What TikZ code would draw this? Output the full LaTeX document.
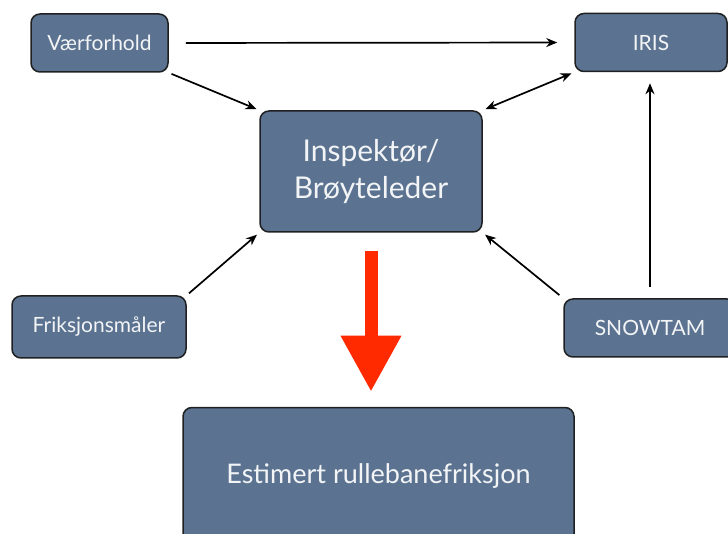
\documentclass[tikz,border=0pt]{standalone}
\usepackage{fontspec}
\setmainfont{Lato}
\usetikzlibrary{arrows.meta}
\definecolor{boxfill}{HTML}{5B7391}
\definecolor{boxline}{HTML}{1E2022}
\definecolor{boxtext}{HTML}{F2F4F6}
\definecolor{flowred}{HTML}{FF2A00}
\begin{document}
\begin{tikzpicture}[x=1pt,y=-1pt,
  box/.style={draw=boxline, line width=1.5pt, fill=boxfill, rounded corners=9pt,
    text=boxtext, inner sep=0pt, align=center, font=\fontsize{21}{24}\selectfont},
  link/.style={line width=1.7pt, -{Stealth[length=11pt,width=9pt]}}]
\useasboundingbox (0,0) rectangle (728,534);

\node[box, minimum width=137pt, minimum height=58pt] (vaer) at (99.5,43) {Værforhold};
\node[box, minimum width=152pt, minimum height=58pt] (iris) at (651,42.5) {IRIS};
\node[box, minimum width=222pt, minimum height=121pt,
      font=\fontsize{30}{37}\selectfont] (insp) at (371,171.5) {Inspektør/\\Brøyteleder};
\node[box, minimum width=174pt, minimum height=62pt] (fric) at (99,327) {Friksjonsmåler};
\node[box, minimum width=172pt, minimum height=58pt] (snow) at (650,328) {SNOWTAM};
\node[box, minimum width=391pt, minimum height=137pt,
      font=\fontsize{27}{32}\selectfont] (est) at (378.5,476) {Estimert rullebanefriksjon};

% connectors between the sources and the inspector
\draw[link, shorten <=17pt, shorten >=17pt] (vaer.east) -- (iris.west);
\draw[link, shorten <=3pt, shorten >=3pt] (vaer.south east) -- (insp.north west);
\draw[link, {Stealth[length=11pt,width=9pt]}-{Stealth[length=11pt,width=9pt]},
      shorten <=3pt, shorten >=3pt] (insp.north east) -- (iris.south west);
\draw[link, shorten <=3pt, shorten >=3pt] (fric.north east) -- (insp.south west);
\draw[link, shorten <=5pt, shorten >=3pt] (snow.north west) -- (insp.south east);
\draw[link, shorten <=11pt, shorten >=11pt] (snow.north) -- (snow.north |- iris.south);

% large red result arrow
\draw[flowred, line width=13pt, -{Triangle[length=56pt,width=57pt]},
      shorten <=18pt, shorten >=15pt] (insp.south) -- (insp.south |- est.north);
\end{tikzpicture}
\end{document}
